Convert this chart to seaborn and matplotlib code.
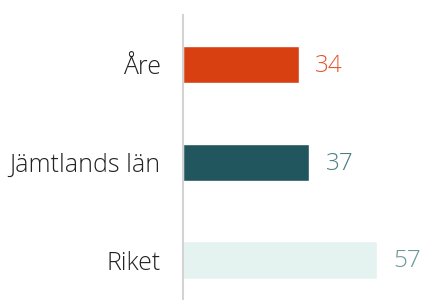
import matplotlib
matplotlib.use('Agg')
import matplotlib.pyplot as plt
import seaborn as sns
import pandas as pd

# data
regions = ['Åre', 'Jämtlands län', 'Riket']
values = [34, 37, 57]
bar_colors = ['#D84012', '#21565F', '#E4F3EF']
label_colors = ['#E4532A', '#4A7F86', '#6A9898']

df = pd.DataFrame({'Region': regions, 'Value': values})

sns.set_style('white')
plt.rcParams['font.family'] = ['Open Sans', 'DejaVu Sans']

fig = plt.figure(figsize=(4.21, 3.0), dpi=100)
ax = fig.add_axes([183 / 421, 0, 1 - 183 / 421, 0.95])

sns.barplot(data=df, x='Value', y='Region', hue='Region', palette=bar_colors,
            legend=False, width=0.38, orient='h', ax=ax, saturation=1)

ax.set_xlim(0, 70)
ax.set_ylim(2.408, -0.505)
ax.set_xlabel('')
ax.set_ylabel('')
ax.set_xticks([])

for s in ['top', 'right', 'bottom']:
    ax.spines[s].set_visible(False)
ax.spines['left'].set_color('#D3D3D3')
ax.spines['left'].set_linewidth(1.5)

ax.tick_params(axis='y', length=0, pad=16)
for lbl in ax.get_yticklabels():
    lbl.set_fontsize(18)
    lbl.set_fontweight('light')
    lbl.set_color('#222222')

for i, v in enumerate(values):
    ax.annotate(str(v), xy=(v, i), xytext=(12, -1), textcoords='offset points',
                va='center', ha='left', fontsize=17.5, fontweight='light',
                color=label_colors[i])

fig.savefig('out.png', dpi=100)
